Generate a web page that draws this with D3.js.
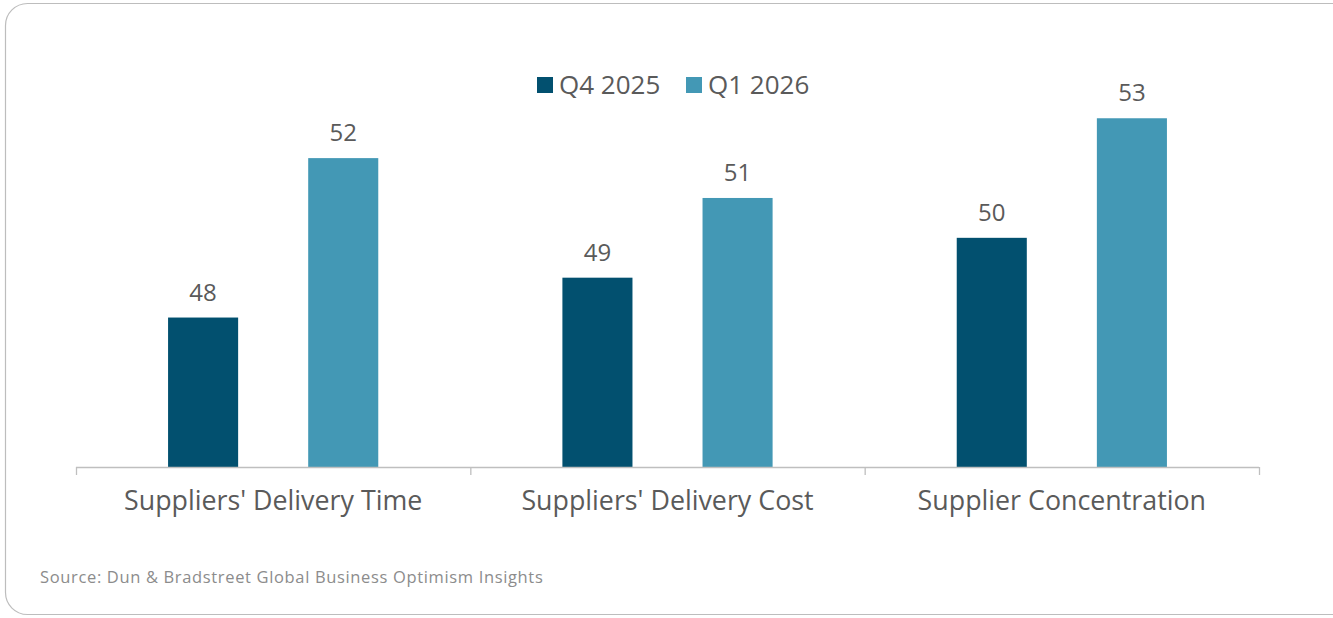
<!DOCTYPE html>
<html>
<head>
<meta charset="utf-8">
<script src="https://cdn.jsdelivr.net/npm/d3@7"></script>
<style>
  html, body { margin: 0; padding: 0; background: #fff; }
  svg { display: block; font-family: "Open Sans", Lato, sans-serif; font-weight: 400; }
</style>
</head>
<body>
<svg id="chart" width="1333" height="618"></svg>
<script>
// Supplier indicators by quarter
const categories = ["Suppliers' Delivery Time", "Suppliers' Delivery Cost", "Supplier Concentration"];
const seriesNames = ["Q4 2025", "Q1 2026"];
const q4_2025 = [48, 49, 50];
const q1_2026 = [52, 51, 53];
const seriesColors = ["#02506F", "#4398B5"];
const sourceNote = "Source: Dun & Bradstreet Global Business Optimism Insights";

const svg = d3.select("#chart");
const textColor = "#5A5A5A";

// Card frame
svg.append("rect")
  .attr("x", 5.5).attr("y", 3.5)
  .attr("width", 1350).attr("height", 611)
  .attr("rx", 22).attr("ry", 22)
  .attr("fill", "#fff")
  .attr("stroke", "#BDBDBD").attr("stroke-width", 1.2);

const plot = { left: 76, right: 1259, base: 467 };

const x0 = d3.scaleBand().domain(categories).range([plot.left, plot.right]).paddingInner(0).paddingOuter(0);
const x1 = d3.scaleBand().domain(seriesNames).range([0, x0.bandwidth()]).paddingInner(0.5).paddingOuter(0.657);
const y = d3.scaleLinear().domain([44.25, 54]).range([plot.base, 78.4]);

const rows = categories.map((c, i) => ({ cat: c, vals: [q4_2025[i], q1_2026[i]] }));

const groups = svg.append("g").selectAll("g").data(rows).join("g")
  .attr("transform", d => `translate(${x0(d.cat)},0)`);

groups.selectAll("rect").data(d => d.vals.map((v, j) => ({ s: seriesNames[j], v, j })))
  .join("rect")
  .attr("x", d => x1(d.s))
  .attr("width", x1.bandwidth())
  .attr("y", d => y(d.v))
  .attr("height", d => plot.base - y(d.v))
  .attr("fill", d => seriesColors[d.j]);

groups.selectAll("text.val").data(d => d.vals.map((v, j) => ({ s: seriesNames[j], v, j })))
  .join("text").attr("class", "val")
  .attr("x", d => x1(d.s) + x1.bandwidth() / 2)
  .attr("y", d => y(d.v) - 17)
  .attr("text-anchor", "middle")
  .attr("font-size", 24)
  .attr("fill", textColor)
  .text(d => d.v);

// Category axis
const axis = svg.append("g").attr("transform", `translate(0,${plot.base})`);
axis.append("line").attr("x1", plot.left).attr("x2", plot.right)
  .attr("y1", 0.5).attr("y2", 0.5).attr("stroke", "#BFBFBF").attr("stroke-width", 1.3);
const tickPos = categories.map(c => x0(c)).concat([plot.right]);
axis.selectAll("line.tick").data(tickPos).join("line").attr("class", "tick")
  .attr("x1", d => d + 0.5).attr("x2", d => d + 0.5)
  .attr("y1", 0).attr("y2", 8)
  .attr("stroke", "#BFBFBF").attr("stroke-width", 1.3);
axis.selectAll("text").data(categories).join("text")
  .attr("x", d => x0(d) + x0.bandwidth() / 2)
  .attr("y", 43)
  .attr("text-anchor", "middle")
  .attr("font-size", 26.8)
  .attr("fill", textColor)
  .text(d => d);

// Legend
const legend = svg.append("g");
const legendItems = [{ x: 537, name: seriesNames[0], color: seriesColors[0] },
                     { x: 686, name: seriesNames[1], color: seriesColors[1] }];
legend.selectAll("rect").data(legendItems).join("rect")
  .attr("x", d => d.x).attr("y", 77).attr("width", 16).attr("height", 16)
  .attr("fill", d => d.color);
legend.selectAll("text").data(legendItems).join("text")
  .attr("x", d => d.x + 22).attr("y", 94)
  .attr("font-size", 26)
  .attr("fill", textColor)
  .text(d => d.name);

// Source note
svg.append("text")
  .attr("x", 40).attr("y", 583)
  .attr("font-size", 16.5)
  .attr("letter-spacing", 0.65)
  .attr("fill", "#8C8C8C")
  .text(sourceNote);
</script>
</body>
</html>
